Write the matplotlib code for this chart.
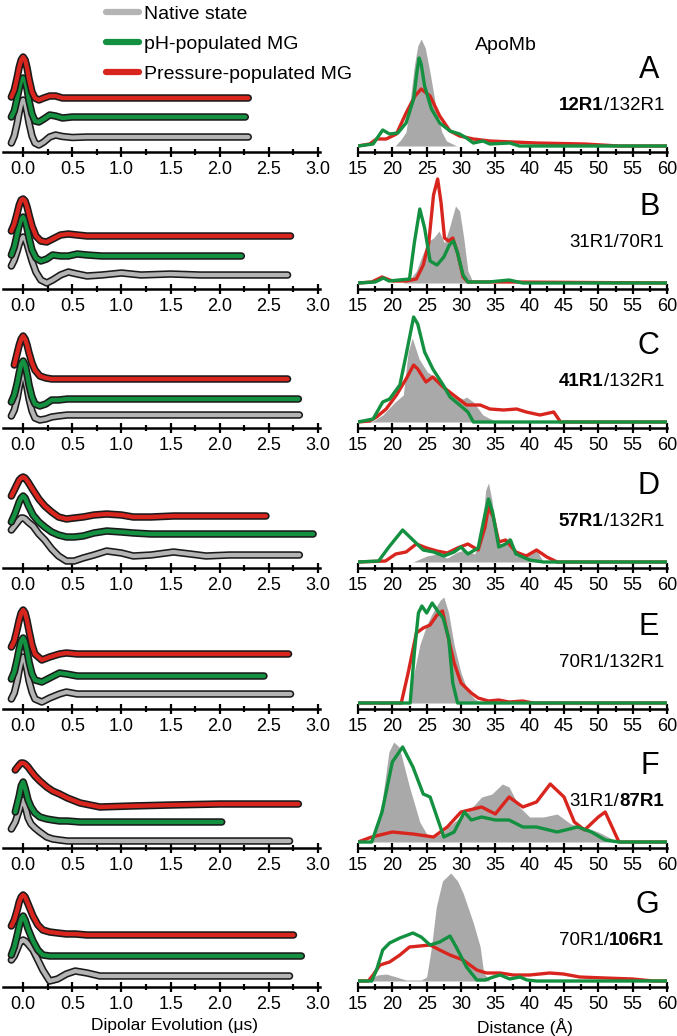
import numpy as np
import matplotlib
matplotlib.use("Agg")
import matplotlib.pyplot as plt
from matplotlib.lines import Line2D
from matplotlib.ticker import MultipleLocator, FormatStrFormatter

plt.rcParams['font.family'] = ['Liberation Sans', 'DejaVu Sans']

nan = np.nan
GRAY = '#b4b4b4'
FILL = '#a9a9a9'
GREEN = '#139040'
RED = '#d8261f'

panels = ['A', 'B', 'C', 'D', 'E', 'F', 'G']
pair_labels = [('12R1', '/132R1', 'b'), ('31R1/70R1', '', 'n'), ('41R1', '/132R1', 'b'),
               ('57R1', '/132R1', 'b'), ('70R1/132R1', '', 'n'), ('31R1/', '87R1', 'e'),
               ('70R1/', '106R1', 'e')]

# ---- dipolar evolution traces (time in us, height in px above axis) ----
A_t = [-0.12, -0.09, -0.06, -0.04, -0.02, 0, 0.02, 0.04, 0.06, 0.09, 0.12, 0.16, 0.21, 0.27, 0.33, 0.40, 0.50, 0.65]
A_native = [9, 16, 29, 40, 49, 52, 49, 40, 29, 16, 9, 7, 10, 15, 17, 15.5, 14.5, 15]
A_ph = [35, 41, 54, 64, 72, 74, 71, 63, 51, 38, 31, 30, 33, 37, 36, 34, 35, 35]
A_press = [55, 62, 75, 85, 92, 95, 92, 84, 73, 60, 54, 52, 54, 56, 56, 54, 54, 54]
A_end = [2.29, 2.26, 2.29]

B_t = [-0.12, -0.09, -0.06, -0.04, -0.02, 0, 0.02, 0.04, 0.06, 0.09, 0.13, 0.18, 0.24, 0.30, 0.38, 0.46, 0.55, 0.65, 0.8, 1.0, 1.2, 1.5, 1.8]
B_native = [23, 29, 38, 45, 50, 52, 50, 45, 38, 28, 17, 9, 6, 9, 14, 17, 15, 13, 14, 16, 14, 15, 14]
B_ph = [34, 42, 55, 64, 70, 72, 69, 61, 51, 39, 31, 28, 30, 34, 33, 33, 35, 34, 33, 33, 33, 33, 33]
B_press = [58, 65, 76, 84, 89, 90, 88, 82, 74, 63, 53, 48, 47, 50, 54, 55, 54, 53, 53, 53, 53, 53, 53]
B_end = [2.69, 2.22, 2.72]

C_t = [-0.12, -0.09, -0.06, -0.04, -0.02, 0, 0.02, 0.04, 0.06, 0.09, 0.12, 0.17, 0.23, 0.29, 0.36, 0.45, 0.6]
C_native = [12, 18, 30, 41, 50, 53, 49, 40, 29, 17, 10, 8, 9, 11, 12, 13, 13]
C_ph = [26, 33, 45, 55, 64, 67, 63, 54, 43, 31, 24, 22, 24, 28, 28, 29, 29]
C_press = [nan, 63, 75, 83, 89, 92, 89, 83, 75, 65, 58, 52, 50, 49, 49, 49, 49]
C_end = [2.81, 2.80, 2.69]

D_t = [-0.12, -0.08, -0.04, -0.02, 0, 0.02, 0.05, 0.10, 0.16, 0.22, 0.29, 0.36, 0.44, 0.52, 0.61, 0.72, 0.85, 1.0, 1.12, 1.3, 1.53, 1.7, 1.86, 2.1]
D_native = [38, 43, 48, 50, 50, 49, 46, 42, 34, 28, 19, 12, 7, 7, 10, 13, 17, 15, 12, 13, 16, 14, 12, 13]
D_ph = [46, 55, 66, 70, 72, 70, 63, 53, 46, 41, 36, 33, 31, 31, 32, 35, 37, 36, 35, 34, 34, 34, 34, 34]
D_press = [72, 80, 88, 90, 91, 90, 86, 78, 69, 62, 56, 51, 49, 50, 51, 53, 54, 53, 51, 51, 52, 52, 52, 52]
D_end = [2.81, 2.95, 2.47]

E_t = [-0.12, -0.09, -0.06, -0.04, -0.02, 0, 0.02, 0.04, 0.06, 0.09, 0.12, 0.19, 0.27, 0.37, 0.44, 0.55, 0.7]
E_native = [10, 16, 28, 39, 48, 52, 48, 39, 28, 17, 10, 7, 11, 15, 17, 15, 15]
E_ph = [30, 37, 50, 60, 68, 71, 67, 58, 47, 35, 29, 27, 31, 36, 35, 33, 33]
E_press = [62, 68, 80, 89, 96, 99, 96, 88, 78, 64, 55, 49, 52, 55, 56, 55, 55]
E_end = [2.72, 2.45, 2.70]

F_t = [-0.12, -0.08, -0.04, -0.02, 0, 0.02, 0.05, 0.08, 0.12, 0.17, 0.24, 0.30, 0.37, 0.45, 0.58, 0.78, 1.1, 1.5, 2.0]
F_native = [19, 26, 38, 45, 48, 42, 30, 24, 20, 16, 11, 9, 8, 7, 7, 7, 7, 7, 7]
F_ph = [nan, 36, 52, 62, 66, 60, 48, 41, 35, 31, 29, 28, 27, 27, 26, 26, 26, 26, 26]
F_press = [nan, 78, 83, 85, 85, 84, 81, 77, 72, 67, 61, 57, 54, 50, 45, 41, 42, 43, 44]
F_end = [2.71, 2.02, 2.80]

G_t = [-0.12, -0.09, -0.06, -0.04, -0.02, 0, 0.02, 0.05, 0.1, 0.15, 0.2, 0.27, 0.35, 0.44, 0.53, 0.65, 0.78, 1.0]
G_native = [27, 31, 38, 43, 46, 47, 46, 43, 37, 27, 17, 6, 8, 13, 16, 14, 11, 11]
G_ph = [32, 40, 52, 61, 68, 71, 67, 58, 46, 37, 32, 31, 31, 31, 31, 31, 31, 31]
G_press = [61, 67, 77, 85, 90, 92, 90, 83, 71, 62, 57, 55, 54, 53, 53, 52, 52, 52]
G_end = [2.71, 2.83, 2.75]

# ---- distance distributions (distance in A, height in px above baseline) ----
A_nat_r = [15, 20.4, 21.2, 22, 22.6, 23.2, 23.7, 24.2, 24.8, 25.5, 26.4, 27.2, 27.9, 29.4, 60]
A_nat_p = [0, 0, 6, 14, 45, 80, 100, 107, 98, 73, 37, 14, 5, 0, 0]
A_ph_r = [15, 17.2, 18.6, 19.6, 20.8, 22, 23.1, 23.6, 23.9, 24.2, 24.7, 25.7, 26.9, 28.4, 29.8, 30.8, 31.8, 33.2, 34.2, 37.1, 38.5, 60]
A_ph_p = [0, 2, 16, 12, 13, 23, 47, 75, 88, 82, 60, 37, 23, 15, 12, 8, 3, 5, 2, 3, 0, 0]
A_pr_r = [15, 16.7, 17.7, 19.1, 20.6, 22, 23.3, 24.2, 25.5, 26.9, 28.4, 29.8, 31.8, 34.2, 41, 48, 53, 60]
A_pr_p = [0, 2, 7, 7, 12, 33, 50, 57, 50, 30, 15, 10, 7, 5, 3, 2, 0, 0]

B_nat_r = [15, 21.5, 22.5, 23.5, 24.5, 25.3, 26, 26.8, 27.6, 28.3, 29.2, 29.8, 30.4, 31, 31.8, 60]
B_nat_p = [0, 0, 3, 12, 30, 42, 45, 52, 40, 55, 77, 72, 45, 12, 0, 0]
B_ph_r = [15, 17.5, 18.7, 19.5, 21, 22.5, 23.2, 24, 24.7, 25.5, 26.5, 27.5, 28.3, 28.9, 29.5, 30.3, 31, 34, 37, 39, 60]
B_ph_p = [0, 1, 5, 2, 3, 4, 40, 74, 55, 22, 18, 26, 38, 42, 30, 8, 1, 1, 3, 0, 0]
B_pr_r = [15, 17, 18.5, 20, 22, 23.5, 24.5, 25.3, 26, 26.6, 27.1, 27.6, 28.2, 28.8, 29.5, 30.3, 31, 33, 37, 60]
B_pr_p = [0, 1, 6, 2, 2, 4, 18, 40, 88, 104, 80, 45, 42, 45, 30, 6, 1, 1, 1, 0]

C_nat_r = [15, 17.2, 18.6, 20.4, 21.6, 22.3, 22.9, 23.9, 25.1, 26.2, 27.4, 28.9, 30.3, 30.8, 31.8, 33.2, 35.2, 60]
C_nat_p = [0, 1, 7, 20, 27, 70, 84, 63, 50, 45, 37, 27, 23, 25, 20, 7, 0, 0]
C_ph_r = [15, 17.2, 18.6, 19.6, 21.1, 22, 23.1, 23.7, 24.7, 25.9, 27.4, 28.4, 29.8, 31, 31.8, 60]
C_ph_p = [0, 3, 20, 23, 37, 67, 105, 98, 70, 53, 37, 25, 17, 10, 0, 0]
C_pr_r = [15, 16.7, 17.7, 19.1, 20.6, 22, 23.1, 23.7, 24.9, 25.9, 27.4, 28.9, 30.8, 32.8, 34.2, 36.2, 38.1, 39.5, 41.5, 43.5, 44.5, 60]
C_pr_p = [0, 1, 5, 13, 27, 43, 57, 53, 40, 45, 35, 27, 17, 17, 13, 12, 13, 10, 7, 10, 0, 0]

D_nat_r = [15, 23, 25, 26.5, 28, 29.5, 30.5, 32, 33, 33.6, 34, 34.5, 35.2, 36, 37, 38, 39.5, 41, 42, 60]
D_nat_p = [0, 0, 6, 8, 4, 10, 12, 8, 30, 72, 79, 62, 20, 18, 25, 6, 5, 12, 0, 0]
D_ph_r = [15, 18, 19.5, 21.5, 23, 24.5, 26, 27.5, 29, 30, 31, 32.5, 33.5, 34, 34.6, 35.5, 36.5, 37.2, 38, 40, 42, 60]
D_ph_p = [0, 1, 15, 32, 22, 12, 10, 6, 10, 15, 8, 14, 48, 63, 50, 15, 18, 22, 8, 2, 0, 0]
D_pr_r = [15, 19, 20.5, 22, 23.5, 25, 26.5, 28, 29.5, 31, 32.5, 33.5, 34, 34.7, 35.5, 36.5, 38, 39.5, 41, 42.5, 44, 60]
D_pr_p = [0, 1, 8, 10, 18, 14, 11, 9, 14, 18, 12, 35, 55, 45, 20, 22, 10, 6, 12, 5, 0, 0]

E_nat_r = [15, 22.3, 23, 24, 25, 26, 27, 27.5, 28.2, 29, 30, 31, 32, 33, 60]
E_nat_p = [0, 0, 25, 58, 78, 92, 103, 106, 90, 58, 30, 12, 4, 0, 0]
E_ph_r = [15, 22.6, 23.2, 23.8, 24.3, 25, 25.8, 26.6, 27.4, 28.2, 28.8, 29.5, 60]
E_ph_p = [0, 0, 50, 90, 97, 90, 100, 92, 85, 65, 20, 0, 0]
E_pr_r = [15, 21.3, 22.3, 23.5, 24.5, 25.5, 26.5, 27.3, 28, 29, 30, 31.5, 32.5, 34, 35.5, 37, 39, 40.5, 60]
E_pr_p = [0, 0, 30, 70, 75, 78, 88, 92, 70, 40, 20, 10, 5, 2, 3, 1, 2, 0, 0]

F_nat_r = [15, 17, 18.5, 19.5, 20.2, 21, 22.5, 24, 25, 26, 27, 29, 31, 33, 34.5, 36, 37, 38.5, 40, 42, 44, 46, 48, 50, 52, 54, 60]
F_nat_p = [0, 0, 40, 90, 100, 95, 55, 20, 8, 5, 8, 20, 30, 45, 48, 58, 55, 35, 25, 25, 28, 18, 15, 10, 3, 0, 0]
F_ph_r = [15, 17, 18.5, 20, 21.5, 23, 24.5, 25.5, 26.5, 27.5, 29, 30.5, 31.5, 33, 35, 37, 39, 41, 44, 47, 49, 51, 53, 60]
F_ph_p = [0, 0, 30, 80, 95, 75, 48, 45, 25, 5, 10, 30, 22, 25, 22, 22, 15, 15, 10, 15, 10, 2, 0, 0]
F_pr_r = [15, 17, 20, 23, 26, 28, 30, 33, 35, 37, 39, 41, 43, 45, 46.5, 48, 50, 51, 52, 53, 60]
F_pr_p = [0, 5, 10, 8, 5, 15, 30, 35, 28, 45, 35, 40, 58, 45, 20, 12, 25, 30, 15, 0, 0]

G_nat_r = [15, 16.5, 17.8, 19.1, 20.6, 22, 24.2, 25, 25.7, 26.4, 27.3, 28.5, 29.5, 30.3, 31.8, 32.8, 33.3, 34.2, 60]
G_nat_p = [0, 0, 6, 7, 4, 1, 1, 4, 34, 74, 100, 108, 100, 88, 58, 34, 8, 0, 0]
G_ph_r = [15, 17, 17.7, 18.6, 19.6, 21.1, 23, 24.2, 25.5, 26.9, 28.4, 29.3, 30.8, 32.3, 33.5, 34.7, 35.7, 37.1, 38.6, 39.6, 41, 60]
G_ph_p = [0, 0, 11, 31, 38, 43, 48, 44, 36, 39, 45, 34, 14, 1, 1, 4, 6, 2, 4, 1, 0, 0]
G_pr_r = [15, 16.5, 17.2, 18.2, 19.6, 21.1, 22.5, 24, 25.5, 26.9, 28.4, 30.3, 32.3, 33.7, 35.7, 37.6, 40, 42.9, 44.9, 47.3, 51, 55, 58, 60]
G_pr_p = [0, 0, 6, 16, 19, 26, 34, 35, 36, 31, 26, 21, 11, 8, 8, 6, 6, 8, 7, 4, 3, 2, 0, 0]

left_data = [(A_t, A_native, A_ph, A_press, A_end), (B_t, B_native, B_ph, B_press, B_end),
             (C_t, C_native, C_ph, C_press, C_end), (D_t, D_native, D_ph, D_press, D_end),
             (E_t, E_native, E_ph, E_press, E_end), (F_t, F_native, F_ph, F_press, F_end),
             (G_t, G_native, G_ph, G_press, G_end)]
right_data = [(A_nat_r, A_nat_p, A_ph_r, A_ph_p, A_pr_r, A_pr_p),
              (B_nat_r, B_nat_p, B_ph_r, B_ph_p, B_pr_r, B_pr_p),
              (C_nat_r, C_nat_p, C_ph_r, C_ph_p, C_pr_r, C_pr_p),
              (D_nat_r, D_nat_p, D_ph_r, D_ph_p, D_pr_r, D_pr_p),
              (E_nat_r, E_nat_p, E_ph_r, E_ph_p, E_pr_r, E_pr_p),
              (F_nat_r, F_nat_p, F_ph_r, F_ph_p, F_pr_r, F_pr_p),
              (G_nat_r, G_nat_p, G_ph_r, G_ph_p, G_pr_r, G_pr_p)]

W, H = 677, 1036
fig = plt.figure(figsize=(W / 100, H / 100), dpi=100)
axis_y = [152, 289, 428, 568, 709, 848, 987]
AX_H = 128


def box(x0, yax, w):
    return [x0 / W, (H - yax) / H, w / W, AX_H / H]


def style_axis(ax):
    for s in ['left', 'right', 'top']:
        ax.spines[s].set_visible(False)
    ax.spines['bottom'].set_linewidth(1.8)
    ax.set_yticks([])
    ax.tick_params(axis='x', which='both', direction='inout', width=1.6, labelsize=13, pad=3)
    ax.tick_params(axis='x', which='major', length=7)
    ax.tick_params(axis='x', which='minor', length=5)
    ax.patch.set_alpha(0)


def trace(ax, t, h, end, color):
    tt = list(t) + [end]
    hh = list(h) + [h[-1]]
    ax.plot(tt, hh, color='#1a1a1a', lw=5.4, solid_capstyle='round', solid_joinstyle='round')
    ax.plot(tt, hh, color=color, lw=3.1, solid_capstyle='round', solid_joinstyle='round')


for i, p in enumerate(panels):
    t, nat, ph, pr, end = left_data[i]
    ax = fig.add_axes(box(3, axis_y[i], 317))
    style_axis(ax)
    trace(ax, t, nat, end[0], GRAY)
    trace(ax, t, ph, end[1], GREEN)
    trace(ax, t, pr, end[2], RED)
    ax.set_xlim(-0.205, 3.02)
    ax.set_ylim(0, AX_H)
    ax.xaxis.set_major_locator(MultipleLocator(0.5))
    ax.xaxis.set_minor_locator(MultipleLocator(0.25))
    ax.xaxis.set_major_formatter(FormatStrFormatter('%.1f'))
    if i == 6:
        ax.set_xlabel('Dipolar Evolution (\u03bcs)', fontsize=12.5)
        ax.xaxis.set_label_coords(0.54, -0.24)

    nr, npk, gr, gp, rr, rp = right_data[i]
    ax2 = fig.add_axes(box(358, axis_y[i], 309))
    style_axis(ax2)
    ax2.fill_between(nr, 0, npk, color=FILL, lw=0)
    ax2.plot(rr, rp, color=RED, lw=2.4)
    ax2.plot(gr, gp, color=GREEN, lw=2.4)
    ax2.set_xlim(15, 60)
    ax2.set_ylim(-6, AX_H - 6)
    ax2.xaxis.set_major_locator(MultipleLocator(5))
    ax2.xaxis.set_minor_locator(MultipleLocator(2.5))
    ax2.text(0.975, 0.64, p, transform=ax2.transAxes, fontsize=22, ha='right', va='center')
    a, b, kind = pair_labels[i]
    if kind == 'n':
        ax2.text(0.99, 0.36, a, transform=ax2.transAxes, fontsize=13.5, ha='right', va='center')
    elif kind == 'b':
        t2 = ax2.text(0.99, 0.36, b, transform=ax2.transAxes, fontsize=13.5, ha='right', va='center')
        ax2.annotate(a, xy=(0, 0.5), xycoords=t2, ha='right', va='center', fontsize=13.5, fontweight='bold')
    else:
        t2 = ax2.text(0.99, 0.36, b, transform=ax2.transAxes, fontsize=13.5, ha='right', va='center',
                      fontweight='bold')
        ax2.annotate(a, xy=(0, 0.5), xycoords=t2, ha='right', va='center', fontsize=13.5)
    if i == 0:
        ax2.text(0.48, 0.83, 'ApoMb', transform=ax2.transAxes, fontsize=14, ha='center', va='center')
    if i == 6:
        ax2.set_xlabel('Distance (\u00c5)', fontsize=12.5)
        ax2.xaxis.set_label_coords(0.54, -0.24)

handles = [Line2D([], [], color=GRAY, lw=4.5, solid_capstyle='round'),
           Line2D([], [], color=GREEN, lw=4.5, solid_capstyle='round'),
           Line2D([], [], color=RED, lw=4.5, solid_capstyle='round')]
fig.legend(handles, ['Native state', 'pH-populated MG', 'Pressure-populated MG'],
           loc='upper left', bbox_to_anchor=(92 / W, 1 + 8 / H), frameon=False, fontsize=14,
           handlelength=1.7, handletextpad=0.3, labelspacing=0.62, borderpad=0.2)

fig.savefig('out.png', dpi=100)
